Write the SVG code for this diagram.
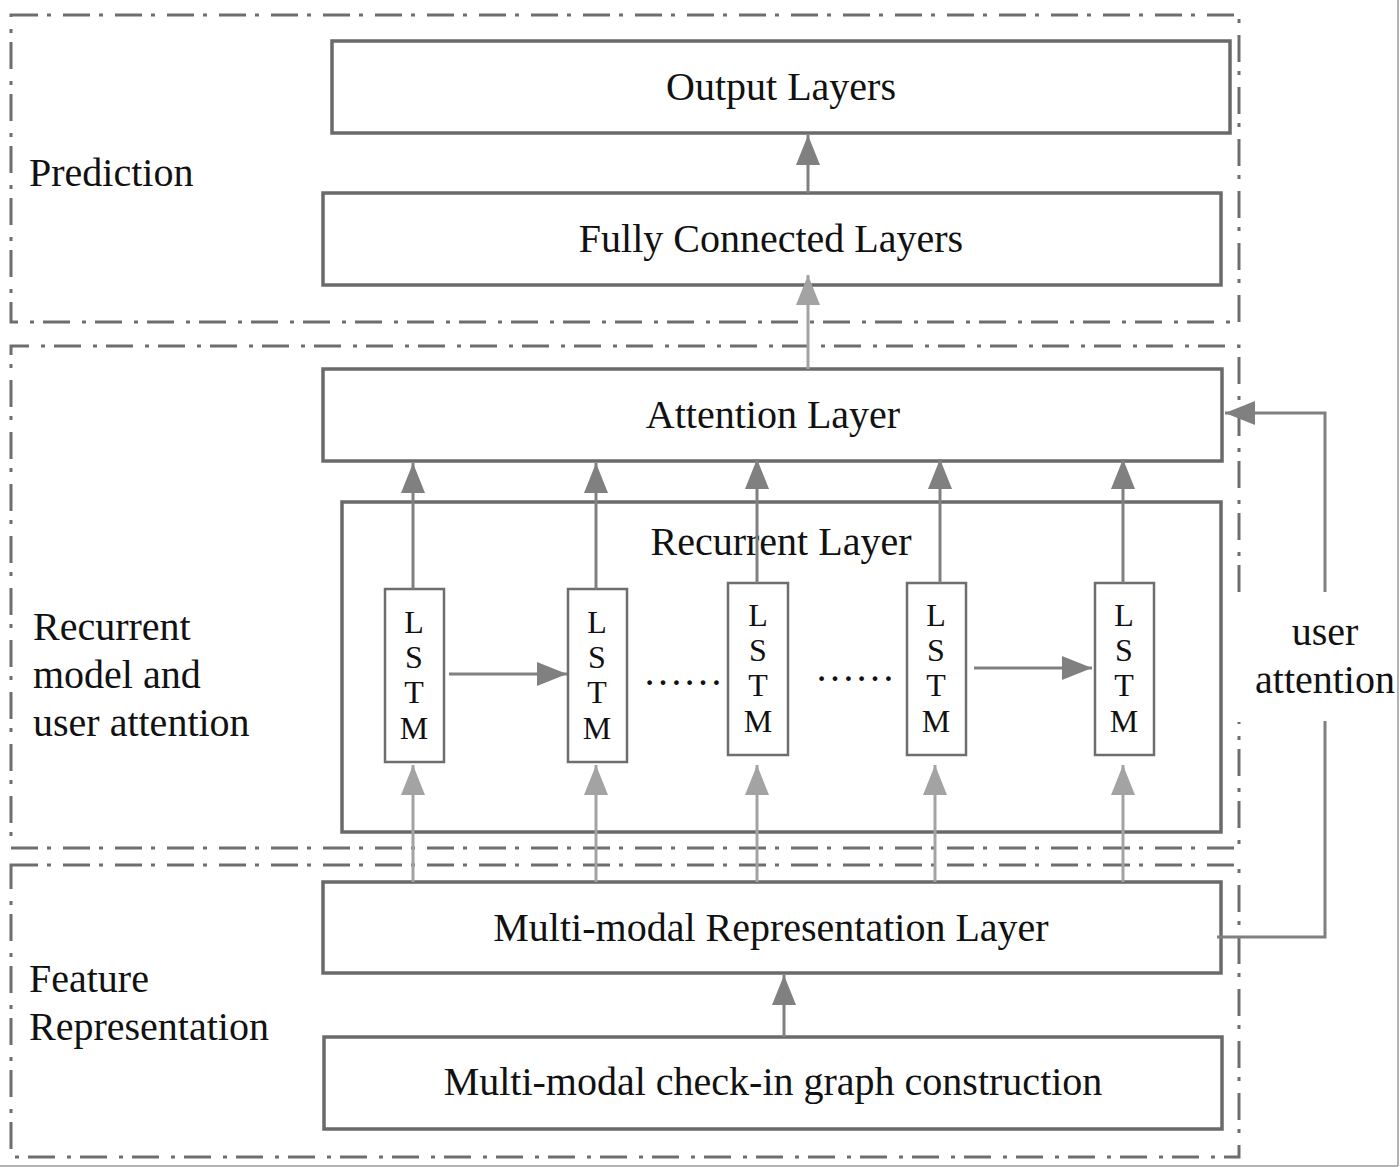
<svg xmlns="http://www.w3.org/2000/svg" width="1400" height="1167" viewBox="0 0 1400 1167">
<style>
.bg{fill:#ffffff}
.frame{fill:none;stroke:#6e6e6e;stroke-width:3;stroke-dasharray:27 9 4 12}
.box{fill:#ffffff;stroke:#6a6a6a;stroke-width:3.5}
.lstm{fill:#ffffff;stroke:#6e6e6e;stroke-width:2.5}
.t{font-family:"Liberation Serif","Times New Roman",serif;font-size:40px;fill:#111111}
.tl{font-family:"Liberation Serif","Times New Roman",serif;font-size:32px;fill:#111111;text-anchor:middle}
.c{text-anchor:middle}
.dk{fill:none;stroke:#808080;stroke-width:3}
.lt{fill:none;stroke:#a3a3a3;stroke-width:3}
.edge{fill:none;stroke:#9a9a9a;stroke-width:1.5}
</style>
<defs>
<marker id="ad" markerUnits="userSpaceOnUse" markerWidth="30" markerHeight="24" refX="30" refY="12" orient="auto">
<path d="M0,0 L30,12 L0,24 z" fill="#808080"/>
</marker>
<marker id="al" markerUnits="userSpaceOnUse" markerWidth="30" markerHeight="24" refX="30" refY="12" orient="auto">
<path d="M0,0 L30,12 L0,24 z" fill="#a3a3a3"/>
</marker>
</defs>
<rect class="bg" x="0" y="0" width="1400" height="1167"/>
<line class="edge" x1="1398" y1="0" x2="1398" y2="1166"/>
<line class="edge" x1="0" y1="1166" x2="1398" y2="1166"/>

<g id="group-prediction">
<rect class="frame" x="11" y="15" width="1228" height="307"/>
<text class="t" x="29" y="186">Prediction</text>
</g>
<g id="group-recurrent">
<path class="frame" d="M1239,592 L1239,346 L11,346 L11,848 L1239,848 L1239,722"/>
<text class="t" x="33" y="640">Recurrent</text>
<text class="t" x="33" y="688">model and</text>
<text class="t" x="33" y="736">user attention</text>
</g>
<g id="group-feature">
<rect class="frame" x="11" y="865" width="1228" height="292"/>
<text class="t" x="29" y="992">Feature</text>
<text class="t" x="29" y="1040">Representation</text>
</g>

<g id="output-layers">
<rect class="box" x="332" y="41" width="898" height="92"/>
<text class="t c" x="781" y="100">Output Layers</text>
</g>
<g id="fully-connected">
<rect class="box" x="323" y="193" width="898" height="92"/>
<text class="t c" x="771" y="252">Fully Connected Layers</text>
</g>
<g id="attention-layer">
<rect class="box" x="323" y="369" width="899" height="92"/>
<text class="t c" x="773" y="428">Attention Layer</text>
</g>
<g id="recurrent-layer">
<rect class="box" x="342" y="502" width="879" height="330"/>
<text class="t c" x="781" y="555">Recurrent Layer</text>
</g>
<g id="lstm-1">
<rect class="lstm" x="385" y="589" width="59" height="173"/>
<text class="tl" x="414" y="633">L</text><text class="tl" x="414" y="668">S</text><text class="tl" x="414" y="703">T</text><text class="tl" x="414" y="739">M</text>
</g>
<g id="lstm-2">
<rect class="lstm" x="568" y="589" width="59" height="173"/>
<text class="tl" x="597" y="633">L</text><text class="tl" x="597" y="668">S</text><text class="tl" x="597" y="703">T</text><text class="tl" x="597" y="739">M</text>
</g>
<g id="lstm-3">
<rect class="lstm" x="728" y="583" width="60" height="172"/>
<text class="tl" x="758" y="626">L</text><text class="tl" x="758" y="661">S</text><text class="tl" x="758" y="696">T</text><text class="tl" x="758" y="732">M</text>
</g>
<g id="lstm-4">
<rect class="lstm" x="907" y="583" width="59" height="172"/>
<text class="tl" x="936" y="626">L</text><text class="tl" x="936" y="661">S</text><text class="tl" x="936" y="696">T</text><text class="tl" x="936" y="732">M</text>
</g>
<g id="lstm-5">
<rect class="lstm" x="1095" y="583" width="59" height="172"/>
<text class="tl" x="1124" y="626">L</text><text class="tl" x="1124" y="661">S</text><text class="tl" x="1124" y="696">T</text><text class="tl" x="1124" y="732">M</text>
</g>
<g id="ellipsis-1"><text class="t c" x="683" y="685" font-size="37">……</text></g>
<g id="ellipsis-2"><text class="t c" x="855" y="681" font-size="37">……</text></g>
<g id="multimodal-representation">
<rect class="box" x="323" y="882" width="898" height="91"/>
<text class="t c" x="771" y="941">Multi-modal Representation Layer</text>
</g>
<g id="checkin-graph">
<rect class="box" x="324" y="1037" width="898" height="92"/>
<text class="t c" x="773" y="1095">Multi-modal check-in graph construction</text>
</g>
<g id="user-attention-label">
<text class="t c" x="1325" y="645">user</text>
<text class="t c" x="1325" y="693">attention</text>
</g>

<g id="connectors">
<line class="dk" x1="808" y1="193" x2="808" y2="135" marker-end="url(#ad)"/>
<line class="lt" x1="808" y1="369" x2="808" y2="275" marker-end="url(#al)"/>
<line class="dk" x1="413" y1="589" x2="413" y2="463" marker-end="url(#ad)"/>
<line class="dk" x1="596" y1="589" x2="596" y2="463" marker-end="url(#ad)"/>
<line class="dk" x1="757" y1="583" x2="757" y2="459" marker-end="url(#ad)"/>
<line class="dk" x1="940" y1="583" x2="940" y2="459" marker-end="url(#ad)"/>
<line class="dk" x1="1123" y1="583" x2="1123" y2="459" marker-end="url(#ad)"/>
<line class="dk" x1="449" y1="674" x2="567" y2="674" marker-end="url(#ad)"/>
<line class="dk" x1="974" y1="668" x2="1092" y2="668" marker-end="url(#ad)"/>
<line class="lt" x1="413" y1="882" x2="413" y2="765" marker-end="url(#al)"/>
<line class="lt" x1="596" y1="882" x2="596" y2="765" marker-end="url(#al)"/>
<line class="lt" x1="757" y1="882" x2="757" y2="765" marker-end="url(#al)"/>
<line class="lt" x1="935" y1="882" x2="935" y2="765" marker-end="url(#al)"/>
<line class="lt" x1="1123" y1="882" x2="1123" y2="765" marker-end="url(#al)"/>
<line class="dk" x1="784" y1="1037" x2="784" y2="975" marker-end="url(#ad)"/>
<path class="dk" d="M1325,592 L1325,413 L1225,413" marker-end="url(#ad)"/>
<path class="dk" d="M1217,937 L1325,937 L1325,721"/>
</g>
</svg>
